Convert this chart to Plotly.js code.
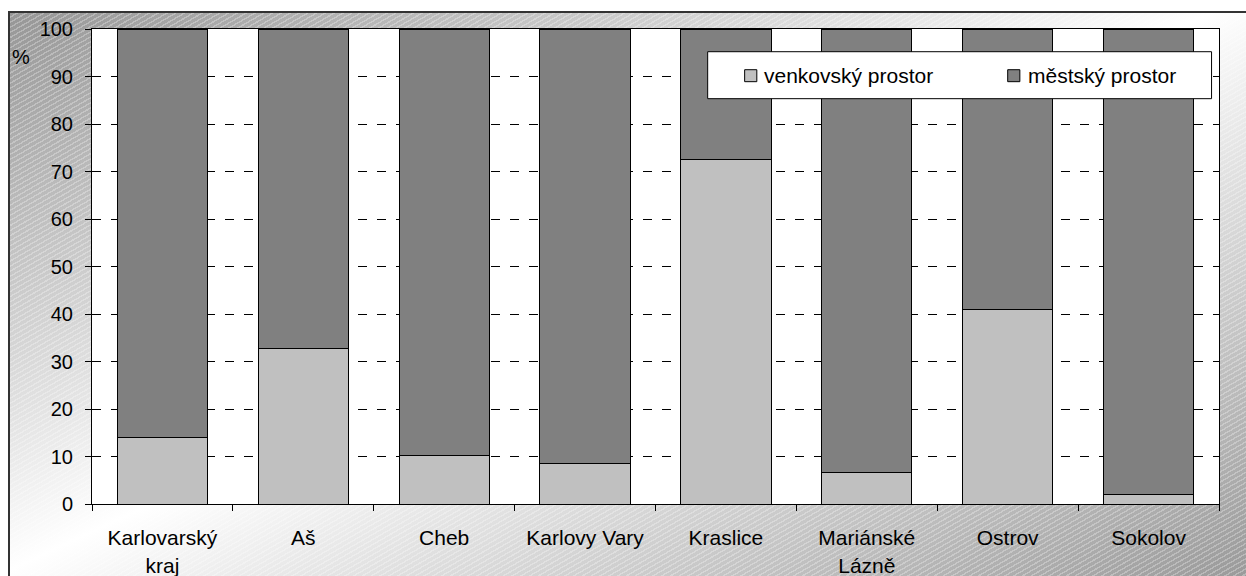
<!DOCTYPE html>
<html>
<head>
<meta charset="utf-8">
<script src="https://cdn.plot.ly/plotly-3.0.1.min.js"></script>
<style>
  html, body { margin: 0; padding: 0; background: #ffffff; width: 1246px; height: 576px; overflow: hidden; }
  #bg {
    position: absolute; left: 8px; top: 11px; width: 1250px; height: 580px;
    border-top: 2px solid #333; border-left: 2px solid #333;
    background:
      repeating-linear-gradient(150deg, rgba(255,255,255,0) 0px, rgba(255,255,255,0) 3px, rgba(255,255,255,0.28) 3px, rgba(255,255,255,0.28) 4.4px),
      linear-gradient(to bottom right, #969696 0%, #ffffff 48%, #969696 100%);
  }
  #chart { position: absolute; left: 0; top: 0; width: 1246px; height: 576px; }
</style>
</head>
<body>
<div id="bg"></div>
<div id="chart"></div>
<script>
// ---- data ----
const categories = ['Karlovarský<br>kraj', 'Aš', 'Cheb', 'Karlovy Vary', 'Kraslice', 'Mariánské<br>Lázně', 'Ostrov', 'Sokolov'];
const venkovsky = [14.1, 32.8, 10.3, 8.6, 72.6, 6.7, 40.9, 2.1];
const mestsky = [85.9, 67.2, 89.7, 91.4, 27.4, 93.3, 59.1, 97.9];
const seriesNames = ['venkovský prostor', 'městský prostor'];
const seriesColors = ['#C0C0C0', '#808080'];
const yTicks = [0, 10, 20, 30, 40, 50, 60, 70, 80, 90, 100];
const yUnit = '%';

const FONT = 'Liberation Sans, Arial, sans-serif';

const traces = [venkovsky, mestsky].map((vals, i) => ({
  type: 'bar',
  name: seriesNames[i],
  x: categories,
  y: vals,
  marker: { color: seriesColors[i], line: { color: '#000000', width: 1 } },
  showlegend: false,
  hoverinfo: 'x+y+name'
}));

// manual legend (box + swatches + labels), positioned in paper coordinates
const legendShapes = [
  { type: 'rect', xref: 'paper', yref: 'paper', x0: 0.5463, x1: 0.9934, y0: 0.8533, y1: 0.9522,
    fillcolor: '#ffffff', line: { color: '#000000', width: 1 }, layer: 'above' },
  { type: 'rect', xref: 'paper', yref: 'paper', x0: 0.5791, x1: 0.5899, y0: 0.8891, y1: 0.9143,
    fillcolor: seriesColors[0], line: { color: '#000000', width: 1 }, layer: 'above' },
  { type: 'rect', xref: 'paper', yref: 'paper', x0: 0.8125, x1: 0.8233, y0: 0.8891, y1: 0.9143,
    fillcolor: seriesColors[1], line: { color: '#000000', width: 1 }, layer: 'above' }
];
const legendAnn = [
  { xref: 'paper', yref: 'paper', x: 0.5945, y: 0.9017, xanchor: 'left', yanchor: 'middle',
    text: seriesNames[0], showarrow: false, font: { family: FONT, size: 21, color: '#000' } },
  { xref: 'paper', yref: 'paper', x: 0.8288, y: 0.9017, xanchor: 'left', yanchor: 'middle',
    text: seriesNames[1], showarrow: false, font: { family: FONT, size: 21, color: '#000' } },
  { xref: 'paper', yref: 'paper', x: -0.063, y: 0.9417, xanchor: 'center', yanchor: 'middle',
    text: yUnit, showarrow: false, font: { family: FONT, size: 20, color: '#000' } }
];

const layout = {
  width: 1246, height: 576,
  margin: { l: 92, r: 27, t: 29, b: 72, pad: 0 },
  paper_bgcolor: 'rgba(0,0,0,0)',
  plot_bgcolor: '#ffffff',
  barmode: 'stack',
  bargap: 0.36,
  font: { family: FONT, size: 20, color: '#000' },
  showlegend: false,
  xaxis: {
    type: 'category',
    range: [-0.5, categories.length - 0.5],
    tickson: 'boundaries',
    ticks: 'outside', ticklen: 6, tickcolor: '#000', tickwidth: 1,
    showline: true, linecolor: '#000', linewidth: 1, mirror: true,
    showgrid: false, zeroline: false,
    tickfont: { family: FONT, size: 21, color: '#000' },
    ticklabelstandoff: 15,
    fixedrange: true
  },
  yaxis: {
    range: [0, 100],
    tickmode: 'array', tickvals: yTicks, ticktext: yTicks.map(String),
    ticks: 'outside', ticklen: 6, tickcolor: '#000', tickwidth: 1,
    showline: true, linecolor: '#000', linewidth: 1, mirror: true,
    showgrid: true, gridcolor: '#000', gridwidth: 1, griddash: '9px,10px',
    zeroline: false,
    tickfont: { family: FONT, size: 20, color: '#000' },
    ticklabelstandoff: 8,
    fixedrange: true
  },
  shapes: legendShapes,
  annotations: legendAnn
};

Plotly.newPlot('chart', traces, layout, { displayModeBar: false, staticPlot: true });
</script>
</body>
</html>
